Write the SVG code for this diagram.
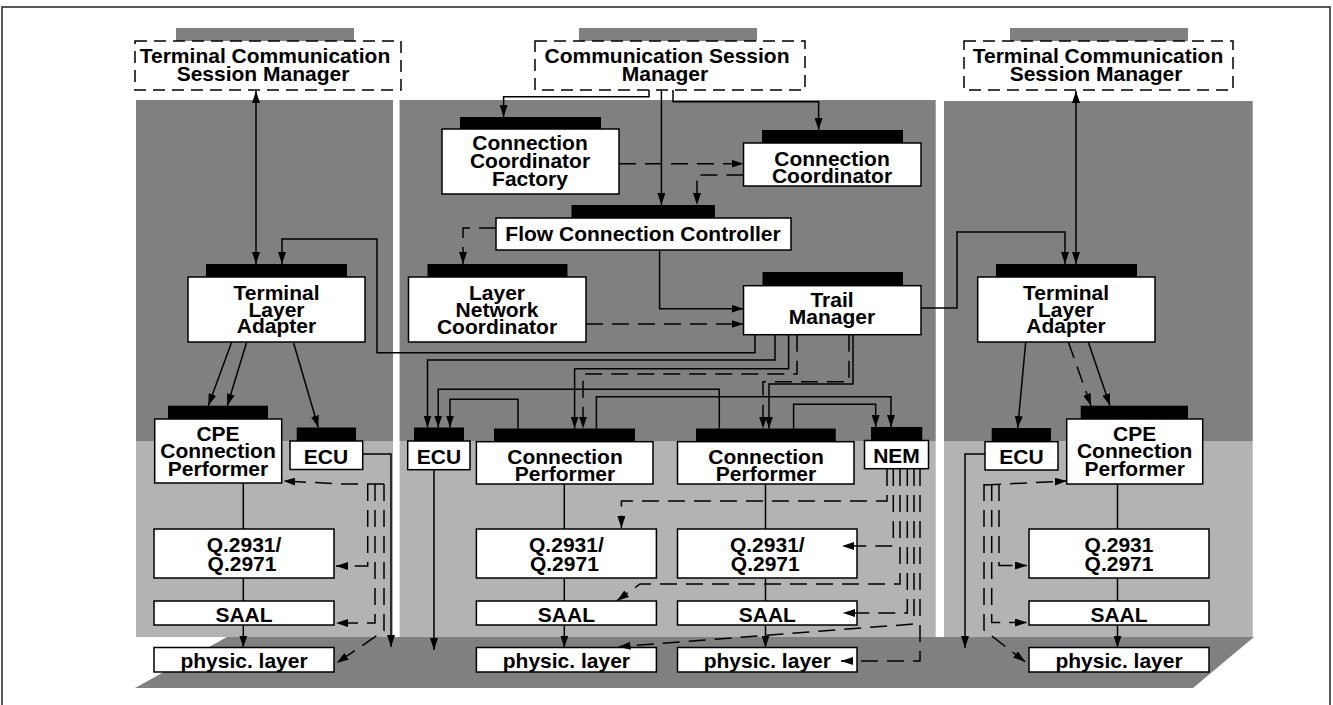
<svg xmlns="http://www.w3.org/2000/svg" width="1333" height="705" viewBox="0 0 1333 705">
<style>
.box{fill:#fff;stroke:#000;stroke-width:1.5}
.bar{fill:#000}
.gbar{fill:#808080}
.dbox{fill:#fff;stroke:#000;stroke-width:1.5;stroke-dasharray:12 7}
.t{font-family:"Liberation Sans",Arial,Helvetica,sans-serif;font-weight:bold;font-size:21px;text-anchor:middle;fill:#000}
.c{fill:none;stroke:#000;stroke-width:1.5;marker-end:url(#ah)}
.n{fill:none;stroke:#000;stroke-width:1.5}
.d{fill:none;stroke:#000;stroke-width:1.5;stroke-dasharray:17 9;marker-end:url(#ah)}
.dk{fill:#808080}
.lt{fill:#b3b3b3}
</style>
<defs>
<marker id="ah" viewBox="0 0 12 8" refX="12" refY="4" markerWidth="12" markerHeight="8" markerUnits="userSpaceOnUse" orient="auto"><path d="M0,0 L12,4 L0,8 z" fill="#000"/></marker>
<marker id="ahs" viewBox="0 0 12 8" refX="12" refY="4" markerWidth="12" markerHeight="8" markerUnits="userSpaceOnUse" orient="auto-start-reverse"><path d="M0,0 L12,4 L0,8 z" fill="#000"/></marker>
</defs>
<rect x="0" y="0" width="1333" height="705" fill="#fff"/>
<rect x="2" y="7" width="1328" height="702" fill="none" stroke="#222" stroke-width="1.5"/>
<g id="background">
<polygon class="dk" points="227,637 1254,637 1193,688 135,688"/>
<rect class="dk" x="136" y="100" width="257" height="341"/>
<rect class="dk" x="399.6" y="100" width="536.1" height="341"/>
<rect class="dk" x="944" y="101" width="308.7" height="340"/>
<rect class="lt" x="136" y="441" width="257" height="196"/>
<rect class="lt" x="399.6" y="441" width="536.1" height="196"/>
<rect class="lt" x="944" y="441" width="308.7" height="196"/>
</g>
<g id="tcsm-left">
<rect class="gbar" x="176" y="28" width="178" height="13"/>
<rect class="dbox" x="135" y="41" width="266" height="49"/>
<text class="t" x="264"><tspan x="265" y="63">Terminal Communication</tspan><tspan x="263" y="81">Session Manager</tspan></text>
</g>
<g id="csm">
<rect class="gbar" x="579" y="28" width="178" height="13"/>
<rect class="dbox" x="535" y="41" width="270" height="49"/>
<text class="t"><tspan x="667" y="63">Communication Session</tspan><tspan x="665" y="81">Manager</tspan></text>
</g>
<g id="tcsm-right">
<rect class="gbar" x="1010" y="28" width="178" height="13"/>
<rect class="dbox" x="964" y="41" width="269" height="49"/>
<text class="t"><tspan x="1098" y="63">Terminal Communication</tspan><tspan x="1096" y="81">Session Manager</tspan></text>
</g>
<g id="ccf">
<rect class="bar" x="460" y="117" width="141" height="12"/>
<rect class="box" x="442" y="129" width="177" height="65"/>
<text class="t"><tspan x="530" y="150">Connection</tspan><tspan x="530" y="167.5">Coordinator</tspan><tspan x="530" y="185.5">Factory</tspan></text>
</g>
<g id="cc">
<rect class="bar" x="762" y="130" width="141" height="13"/>
<rect class="box" x="743.5" y="143" width="177.5" height="43"/>
<text class="t"><tspan x="832" y="166">Connection</tspan><tspan x="832" y="183">Coordinator</tspan></text>
</g>
<g id="fcc">
<rect class="bar" x="571.5" y="205" width="143.5" height="13"/>
<rect class="box" x="496" y="218" width="295" height="32"/>
<text class="t" x="643" y="241">Flow Connection Controller</text>
</g>
<g id="lnc">
<rect class="bar" x="427.5" y="264" width="140" height="13"/>
<rect class="box" x="408.5" y="277" width="177.5" height="65"/>
<text class="t"><tspan x="497" y="300">Layer</tspan><tspan x="497" y="317">Network</tspan><tspan x="497" y="334">Coordinator</tspan></text>
</g>
<g id="tm">
<rect class="bar" x="762.5" y="272" width="140.5" height="13.7"/>
<rect class="box" x="743.5" y="285.7" width="177.5" height="49"/>
<text class="t"><tspan x="832" y="307">Trail</tspan><tspan x="832" y="324">Manager</tspan></text>
</g>
<g id="tla-left">
<rect class="bar" x="206" y="264" width="141" height="13"/>
<rect class="box" x="188" y="277" width="177" height="65"/>
<text class="t"><tspan x="276.5" y="299.5">Terminal</tspan><tspan x="276.5" y="316.5">Layer</tspan><tspan x="276.5" y="333">Adapter</tspan></text>
</g>
<g id="tla-right">
<rect class="bar" x="996" y="264" width="141" height="13"/>
<rect class="box" x="977.7" y="277" width="177.3" height="65"/>
<text class="t"><tspan x="1066" y="299.5">Terminal</tspan><tspan x="1066" y="316.5">Layer</tspan><tspan x="1066" y="333">Adapter</tspan></text>
</g>
<g id="cpe-left">
<rect class="bar" x="168" y="405.7" width="100" height="13.3"/>
<rect class="box" x="154.7" y="419" width="127" height="64"/>
<text class="t"><tspan x="218" y="441">CPE</tspan><tspan x="218" y="458">Connection</tspan><tspan x="218" y="475.5">Performer</tspan></text>
</g>
<g id="ecu-left">
<rect class="bar" x="296.7" y="427.5" width="59.3" height="13.5"/>
<rect class="box" x="290" y="441" width="72.7" height="28.5"/>
<text class="t" x="326" y="464">ECU</text>
</g>
<g id="ecu-mid">
<rect class="bar" x="414" y="427.5" width="50" height="13.5"/>
<rect class="box" x="407.7" y="441" width="62.3" height="28.7"/>
<text class="t" x="439" y="464">ECU</text>
</g>
<g id="cp-mid">
<rect class="bar" x="494" y="428.5" width="141" height="13.2"/>
<rect class="box" x="476.4" y="441.7" width="176.6" height="42.3"/>
<text class="t"><tspan x="565" y="464">Connection</tspan><tspan x="565" y="480.5">Performer</tspan></text>
</g>
<g id="cp-right">
<rect class="bar" x="696" y="428.5" width="139.7" height="13.2"/>
<rect class="box" x="677.5" y="441.7" width="176.5" height="42.3"/>
<text class="t"><tspan x="766" y="464">Connection</tspan><tspan x="766" y="480.5">Performer</tspan></text>
</g>
<g id="nem">
<rect class="bar" x="871" y="427" width="51.3" height="13.5"/>
<rect class="box" x="864.5" y="440.5" width="64" height="28.2"/>
<text class="t" x="896.5" y="463">NEM</text>
</g>
<g id="ecu-right">
<rect class="bar" x="991.7" y="428" width="59.3" height="13.7"/>
<rect class="box" x="985" y="441.7" width="73" height="28.3"/>
<text class="t" x="1021.5" y="464">ECU</text>
</g>
<g id="cpe-right">
<rect class="bar" x="1080.7" y="405.7" width="107.3" height="13.3"/>
<rect class="box" x="1066.7" y="419" width="136" height="65"/>
<text class="t"><tspan x="1134.7" y="441">CPE</tspan><tspan x="1134.7" y="458">Connection</tspan><tspan x="1134.7" y="475.5">Performer</tspan></text>
</g>
<g id="q-left"><rect class="box" x="154" y="529" width="180" height="49"/><text class="t"><tspan x="244" y="551.5">Q.2931/</tspan><tspan x="242" y="571">Q.2971</tspan></text></g>
<g id="saal-left"><rect class="box" x="154" y="601" width="180" height="24"/><text class="t" x="244" y="622">SAAL</text></g>
<g id="phy-left"><rect class="box" x="154" y="647.5" width="180" height="24.5"/><text class="t" x="244" y="667.5">physic. layer</text></g>
<g id="q-mid"><rect class="box" x="476.4" y="529" width="180" height="49"/><text class="t"><tspan x="566.4" y="551.5">Q.2931/</tspan><tspan x="564.4" y="571">Q.2971</tspan></text></g>
<g id="saal-mid"><rect class="box" x="476.4" y="601" width="180" height="24"/><text class="t" x="566.4" y="622">SAAL</text></g>
<g id="phy-mid"><rect class="box" x="476.4" y="647.5" width="180" height="24.5"/><text class="t" x="566.4" y="667.5">physic. layer</text></g>
<g id="q-rm"><rect class="box" x="677.5" y="529" width="179.5" height="49"/><text class="t"><tspan x="767.3" y="551.5">Q.2931/</tspan><tspan x="765.3" y="571">Q.2971</tspan></text></g>
<g id="saal-rm"><rect class="box" x="677.5" y="601" width="179.5" height="24"/><text class="t" x="767.3" y="622">SAAL</text></g>
<g id="phy-rm"><rect class="box" x="677.5" y="647.5" width="179.5" height="24.5"/><text class="t" x="767.3" y="667.5">physic. layer</text></g>
<g id="q-right"><rect class="box" x="1029" y="529" width="180" height="49"/><text class="t"><tspan x="1119" y="551.5">Q.2931</tspan><tspan x="1119" y="571">Q.2971</tspan></text></g>
<g id="saal-right"><rect class="box" x="1029" y="601" width="180" height="24"/><text class="t" x="1119" y="622">SAAL</text></g>
<g id="phy-right"><rect class="box" x="1029" y="647.5" width="180" height="24.5"/><text class="t" x="1119" y="667.5">physic. layer</text></g>
<g id="connectors">
<path class="c" d="M256,91 V264" marker-start="url(#ahs)"/>
<path class="c" d="M1076,91 V264" marker-start="url(#ahs)"/>
<path class="c" d="M649,90 V96.7 H503.6 V117"/>
<path class="c" d="M661.4,90 V205"/>
<path class="c" d="M673,90 V101.7 H818.6 V130"/>
<path class="d" d="M619,163.7 H743.5"/>
<path class="d" d="M743.5,175 H697 V205"/>
<path class="d" d="M496,228 H463 V264"/>
<path class="c" d="M659.6,250 V308.7 H743.5"/>
<path class="d" d="M586,324 H743.5"/>
<path class="c" d="M755,334.7 V352.7 H377 V239 H282 V264"/>
<path class="c" d="M921,308 H957 V232 H1065 V264"/>
<path class="c" d="M775,334.7 V360 H427.5 V427.5"/>
<path class="c" d="M788.6,334.7 V368.7 H574.6 V428.5"/>
<path class="d" d="M797,334.7 V374 H583 V428.5"/>
<path class="d" d="M849,334.7 V381.7 H763 V428.5"/>
<path class="c" d="M853,334.7 V384 H769 V428.5"/>
<path class="c" d="M719.3,428.5 V389.3 H438.2 V427.5"/>
<path class="c" d="M518,428.5 V399.3 H450 V427.5"/>
<path class="c" d="M596.4,428.5 V396.7 H891 V427"/>
<path class="c" d="M793.6,428.5 V404.3 H875.7 V427"/>
<path class="c" d="M231.7,342 L208.3,405.7"/>
<path class="c" d="M246.7,342 L227.3,405.7"/>
<path class="c" d="M293.3,342 L318.3,427.5"/>
<path class="c" d="M1025.7,342 L1017.7,428"/>
<path class="c" d="M1088.3,342 L1110,405.7"/>
<path class="d" d="M1068.3,342 L1091,405.7"/>
<path class="n" d="M243.3,483 V529 M243.3,578 V601"/>
<path class="c" d="M243.3,625 V647.5"/>
<path class="n" d="M564.3,484 V529 M564.3,578 V601"/>
<path class="c" d="M564.3,625 V647.5"/>
<path class="n" d="M765.5,484 V529 M765.5,578 V601"/>
<path class="c" d="M765.5,625 V647.5"/>
<path class="n" d="M1117.5,484 V529 M1117.5,578 V601"/>
<path class="c" d="M1117.5,625 V647.5"/>
<path class="c" d="M362.7,454 H391 V647"/>
<path class="c" d="M434,469.7 V650"/>
<path class="c" d="M985,454 H965 V648"/>
<path class="d" d="M384,484 L343,484 L283.3,481"/>
<path class="d" d="M367.7,484 V566 H336"/>
<path class="d" d="M375,484 V623 H336"/>
<path class="d" d="M384,484 V630.7 L336.7,663"/>
<path class="d" d="M984,485 L1066.7,481"/>
<path class="d" d="M999,484 V565.5 H1027"/>
<path class="d" d="M991.7,484 V622.5 H1027"/>
<path class="d" d="M984,484 V630 L1025,661.7"/>
<path class="d" d="M887,469 V501 H621.4 V528"/>
<path class="d" d="M893.3,469 V546 H842"/>
<path class="d" d="M900,469 V584 H640 L617,600.7"/>
<path class="d" d="M907.3,469 V613 H843"/>
<path class="d" d="M914,469 V624 L618.6,646.7"/>
<path class="d" d="M920,469 V661 H841"/>
</g>
</svg>
